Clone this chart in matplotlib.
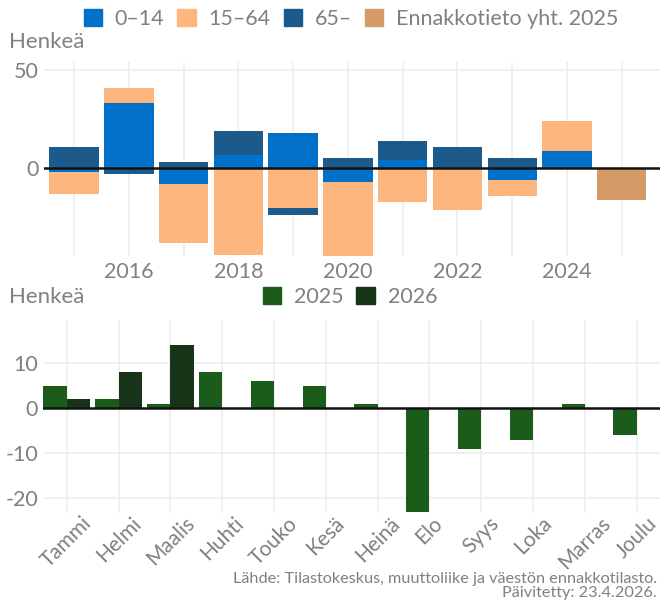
import matplotlib.pyplot as plt
from matplotlib.patches import Patch
import numpy as np

plt.rcParams['font.family'] = ['Lato', 'DejaVu Sans']
plt.rcParams['axes.unicode_minus'] = False

# top panel: yearly net migration by age group
years = [2015, 2016, 2017, 2018, 2019, 2020, 2021, 2022, 2023, 2024]
age_0_14 = [-2, 33, -8, 7, 18, -7, 4, 0, -6, 9]
age_15_64 = [-11, 8, -30, -44, -20, -42, -17, -21, -8, 15]
age_65 = [11, -3, 3, 12, -4, 5, 10, 11, 5, 0]
est_year = [2025]
est_total = [-16]
year_ticks = [2016, 2018, 2020, 2022, 2024]

# bottom panel: monthly
months = ['Tammi', 'Helmi', 'Maalis', 'Huhti', 'Touko', 'Kesä', 'Heinä',
          'Elo', 'Syys', 'Loka', 'Marras', 'Joulu']
m2025 = [5, 2, 1, 8, 6, 5, 1, -23, -9, -7, 1, -6]
m2026 = [2, 8, 14]

c014 = '#0070c8'
c1564 = '#fcb67e'
c65 = '#1b5a8a'
cest = '#d59b66'
g25 = '#1b5c1a'
g26 = '#183418'
gray = '#808080'
grid = '#ededed'

fig = plt.figure(figsize=(6.6, 6.03), dpi=100)
W, H = 660, 603

def ax_px(l, t, r, b):
    return fig.add_axes([l / W, 1 - b / H, (r - l) / W, (b - t) / H])

def style(ax):
    for s in ax.spines.values():
        s.set_visible(False)
    ax.tick_params(length=0, colors=gray, labelsize=15.5, pad=4)
    ax.grid(True, color=grid, lw=1.2)
    ax.set_axisbelow(True)
    ax.axhline(0, color='#111111', lw=1.8, zorder=5)

# ---- top
ax1 = ax_px(44, 61.7, 660, 256)
style(ax1)
x = np.array(years)
pos = np.zeros(len(years))
neg = np.zeros(len(years))
for vals, col in [(age_0_14, c014), (age_15_64, c1564), (age_65, c65)]:
    v = np.array(vals, dtype=float)
    b = np.where(v >= 0, pos, neg)
    ax1.bar(x, v, bottom=b, width=0.9, color=col, zorder=3)
    pos = pos + np.where(v > 0, v, 0)
    neg = neg + np.where(v < 0, v, 0)
ax1.bar(est_year, est_total, width=0.9, color=cest, zorder=3)
ax1.set_xlim(2014.45, 2025.7)
ax1.set_ylim(-44.6, 54.2)
ax1.set_yticks([0, 50])
ax1.set_xticks(year_ticks)
ax1.set_xticks(range(2015, 2026, 2), minor=True)
ax1.grid(True, which='minor', axis='x', color=grid, lw=1.2)
ax1.tick_params(which='minor', length=0)
fig.text(9 / W, 1 - 42 / H, 'Henkeä', color=gray, fontsize=16, va='center')
h1 = [Patch(color=c) for c in [c014, c1564, c65, cest]]
fig.legend(h1, ['0–14', '15–64', '65–', 'Ennakkotieto yht. 2025'],
           loc='center', bbox_to_anchor=(0.532, 1 - 19 / H), ncol=4,
           frameon=False, fontsize=15.5, labelcolor=gray, handlelength=0.85,
           handleheight=0.85, handletextpad=0.6, columnspacing=0.6)

# ---- bottom
ax2 = ax_px(43.5, 320, 660, 513.3)
style(ax2)
mx = np.arange(1, 13)
ax2.bar(mx - 0.225, m2025, width=0.45, color=g25, zorder=3)
ax2.bar(mx[:len(m2026)] + 0.225, m2026, width=0.45, color=g26, zorder=3)
ax2.set_xlim(0.55, 12.45)
ax2.set_ylim(-23.3, 19.6)
ax2.set_yticks([-20, -10, 0, 10])
ax2.set_xticks(mx)
ax2.set_xticklabels(months, rotation=45, ha='center')
ax2.tick_params(axis='x', pad=0, labelsize=15)
fig.text(9 / W, 1 - 297 / H, 'Henkeä', color=gray, fontsize=16, va='center')
h2 = [Patch(color=c) for c in [g25, g26]]
fig.legend(h2, ['2025', '2026'], loc='center',
           bbox_to_anchor=(0.53, 1 - 297 / H), ncol=2, frameon=False,
           fontsize=15.5, labelcolor=gray, handlelength=0.85,
           handleheight=0.85, handletextpad=0.6, columnspacing=0.6)

fig.text(657 / W, 1 - 586 / H,
         'Lähde: Tilastokeskus, muuttoliike ja väestön ennakkotilasto.\nPäivitetty: 23.4.2026.',
         color=gray, fontsize=11.7, ha='right', va='center', linespacing=1.0)

fig.savefig('out.png', dpi=100)
